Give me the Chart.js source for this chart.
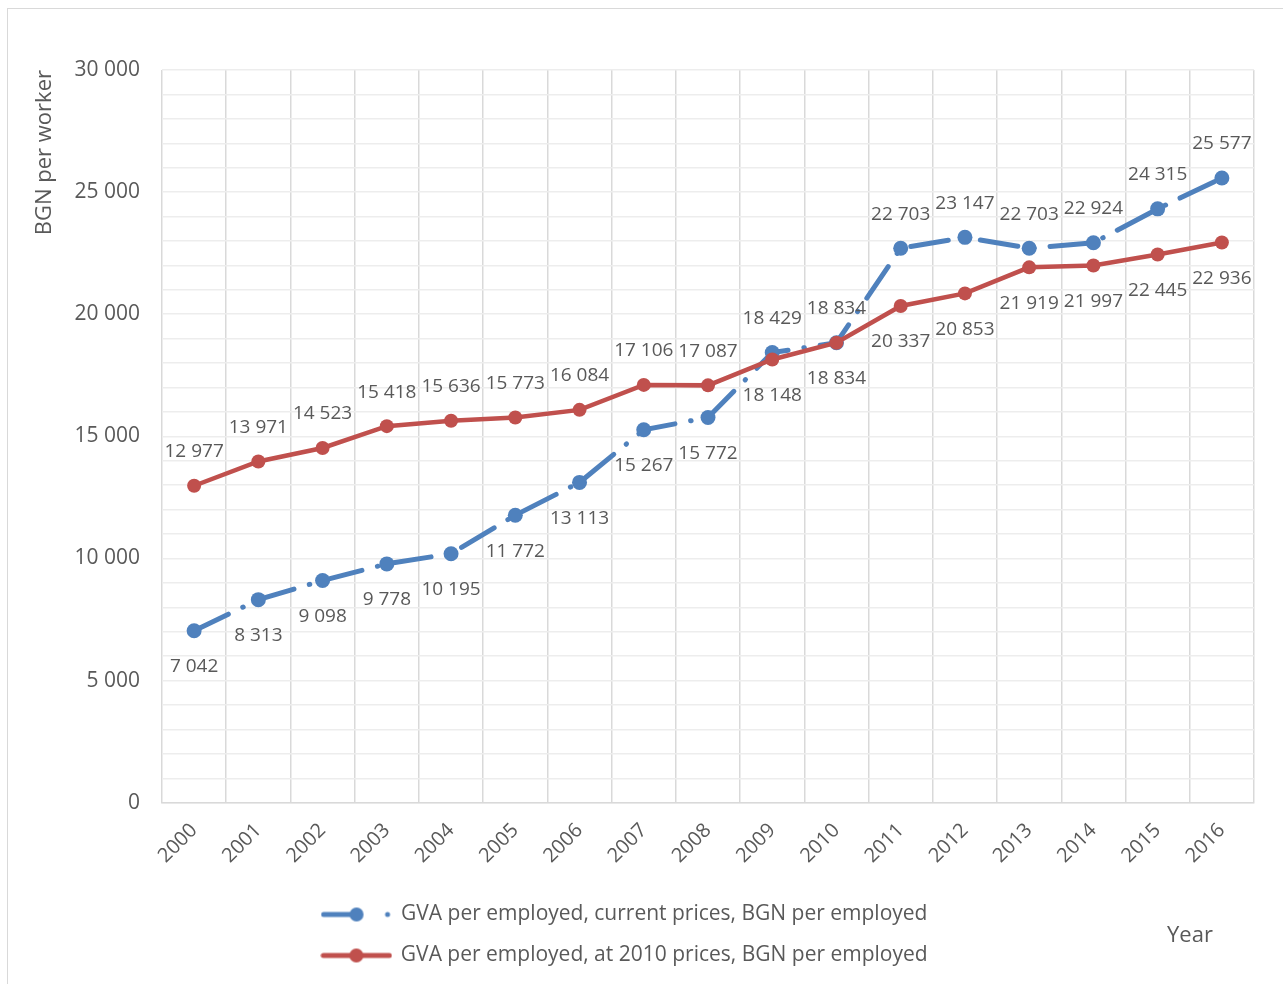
<!DOCTYPE html>
<html>
<head>
<meta charset="utf-8">
<script src="https://cdn.jsdelivr.net/npm/chart.js@4/dist/chart.umd.min.js"></script>
<style>
  html, body { margin: 0; padding: 0; background: #fff; }
  #wrap { width: 1283px; height: 984px; position: relative; }
</style>
</head>
<body>
<div id="wrap"><canvas id="gva-chart"></canvas></div>
<script>
// values
const years = ['2000', '2001', '2002', '2003', '2004', '2005', '2006', '2007', '2008',
               '2009', '2010', '2011', '2012', '2013', '2014', '2015', '2016'];
const currentPrices = [7042, 8313, 9098, 9778, 10195, 11772, 13113, 15267, 15772,
                       18429, 18834, 22703, 23147, 22703, 22924, 24315, 25577];
const constantPrices = [12977, 13971, 14523, 15418, 15636, 15773, 16084, 17106, 17087,
                        18148, 18834, 20337, 20853, 21919, 21997, 22445, 22936];
const seriesNames = ['GVA per employed, current prices, BGN per employed',
                     'GVA per employed, at 2010 prices, BGN per employed'];

const BLUE = '#4f81bd';
const RED = '#c0504d';
const TEXT = '#595959';
const FONT = '"Open Sans", sans-serif';

function fmt(v) {
    return String(v).replace(/\B(?=(\d{3})+(?!\d))/g, ' ');
}

// little line + marker pictures for the legend
function legendSample(color, dashed) {
    const c = document.createElement('canvas');
    c.width = 72; c.height = 18;
    const g = c.getContext('2d');
    g.strokeStyle = color; g.fillStyle = color;
    g.lineCap = 'round';
    g.lineWidth = 5;
    g.beginPath();
    if (dashed) {
        g.moveTo(3, 9); g.lineTo(36, 9); g.stroke();
        g.beginPath(); g.arc(36, 9, 7, 0, Math.PI * 2); g.fill();
        g.beginPath(); g.arc(67, 9, 2.5, 0, Math.PI * 2); g.fill();
    } else {
        g.moveTo(3, 9); g.lineTo(69, 9); g.stroke();
        g.beginPath(); g.arc(36, 9, 7, 0, Math.PI * 2); g.fill();
    }
    return c;
}
const samples = [legendSample(BLUE, true), legendSample(RED, false)];

// labels above/below each point, like the Excel data labels
const valueLabels = {
    id: 'valueLabels',
    afterDatasetsDraw(chart) {
        const ctx = chart.ctx;
        ctx.save();
        ctx.font = '19px ' + FONT;
        ctx.fillStyle = TEXT;
        ctx.textAlign = 'center';
        ctx.textBaseline = 'middle';
        chart.data.datasets.forEach((ds, i) => {
            const other = chart.data.datasets[1 - i].data;
            chart.getDatasetMeta(i).data.forEach((pt, j) => {
                const v = ds.data[j];
                // the higher series gets its label above, the lower one below
                const up = i === 0 ? v >= other[j] : v > other[j];
                ctx.fillText(fmt(v), pt.x, pt.y + (up ? -34 : 36));
            });
        });
        ctx.restore();
    }
};

// outer frame + the stray "Year" axis title down by the legend
const frame = {
    id: 'frame',
    beforeDraw(chart) {
        const ctx = chart.ctx;
        ctx.save();
        ctx.fillStyle = '#fff';
        ctx.fillRect(0, 0, chart.width, chart.height);
        ctx.strokeStyle = '#d9d9d9';
        ctx.lineWidth = 1;
        ctx.strokeRect(7.5, 8.5, chart.width + 20, chart.height + 20);
        ctx.restore();
    },
    afterLayout(chart) {
        // legend rows sit a little left of the centre in the original
        chart.legend.left -= 18;
        chart.legend.right -= 18;
    },
    afterDraw(chart) {
        const ctx = chart.ctx;
        ctx.save();
        ctx.font = '22px ' + FONT;
        ctx.fillStyle = TEXT;
        ctx.textAlign = 'center';
        ctx.textBaseline = 'middle';
        ctx.fillText('Year', chart.width - 93, 936);
        ctx.restore();
    }
};

new Chart(document.querySelector('#gva-chart'), {
    type: 'line',
    data: {
        labels: years,
        datasets: [{
            label: seriesNames[0],
            data: currentPrices,
            borderColor: BLUE,
            backgroundColor: BLUE,
            borderWidth: 5,
            borderDash: [38, 16, 0.5, 16],
            borderCapStyle: 'round',
            pointRadius: 7.5,
            pointHoverRadius: 7.5,
            pointBorderWidth: 0,
            order: 2
        }, {
            label: seriesNames[1],
            data: constantPrices,
            borderColor: RED,
            backgroundColor: RED,
            borderWidth: 4.5,
            borderCapStyle: 'round',
            pointRadius: 7,
            pointHoverRadius: 7,
            pointBorderWidth: 0,
            order: 1
        }]
    },
    options: {
        responsive: true,
        maintainAspectRatio: false,
        animation: false,
        layout: { padding: { top: 70, left: 32, right: 29, bottom: 8 } },
        scales: {
            x: {
                offset: true,
                grid: { offset: true, color: '#d9d9d9', lineWidth: 1.5, drawTicks: false },
                border: { color: '#d9d9d9', width: 1.5 },
                ticks: {
                    color: TEXT,
                    font: { family: FONT, size: 20 },
                    minRotation: 45,
                    maxRotation: 45,
                    padding: 16,
                    autoSkip: false
                }
            },
            y: {
                min: 0,
                max: 30000,
                afterFit: s => { s.width = 130; },
                grid: { color: '#ededed', lineWidth: 1.5, drawTicks: false },
                border: { display: false },
                ticks: {
                    stepSize: 1000,
                    autoSkip: false,
                    padding: 22,
                    color: TEXT,
                    font: { family: FONT, size: 21 },
                    callback: v => (v % 5000 === 0 ? fmt(v) : '')
                },
                title: {
                    display: true,
                    text: 'BGN per worker',
                    align: 'end',
                    color: TEXT,
                    font: { family: FONT, size: 22 },
                    padding: { top: 0, bottom: 0 }
                }
            }
        },
        plugins: {
            legend: {
                position: 'bottom',
                labels: {
                    color: TEXT,
                    font: { family: FONT, size: 21 },
                    usePointStyle: true,
                    pointStyleWidth: 68,
                    padding: 20,
                    sort: (a, b) => a.datasetIndex - b.datasetIndex,
                    generateLabels(chart) {
                        const items = Chart.defaults.plugins.legend.labels.generateLabels(chart);
                        items.forEach(it => { it.pointStyle = samples[it.datasetIndex]; });
                        return items;
                    }
                }
            },
            tooltip: { enabled: false }
        }
    },
    plugins: [valueLabels, frame]
});
</script>
</body>
</html>
